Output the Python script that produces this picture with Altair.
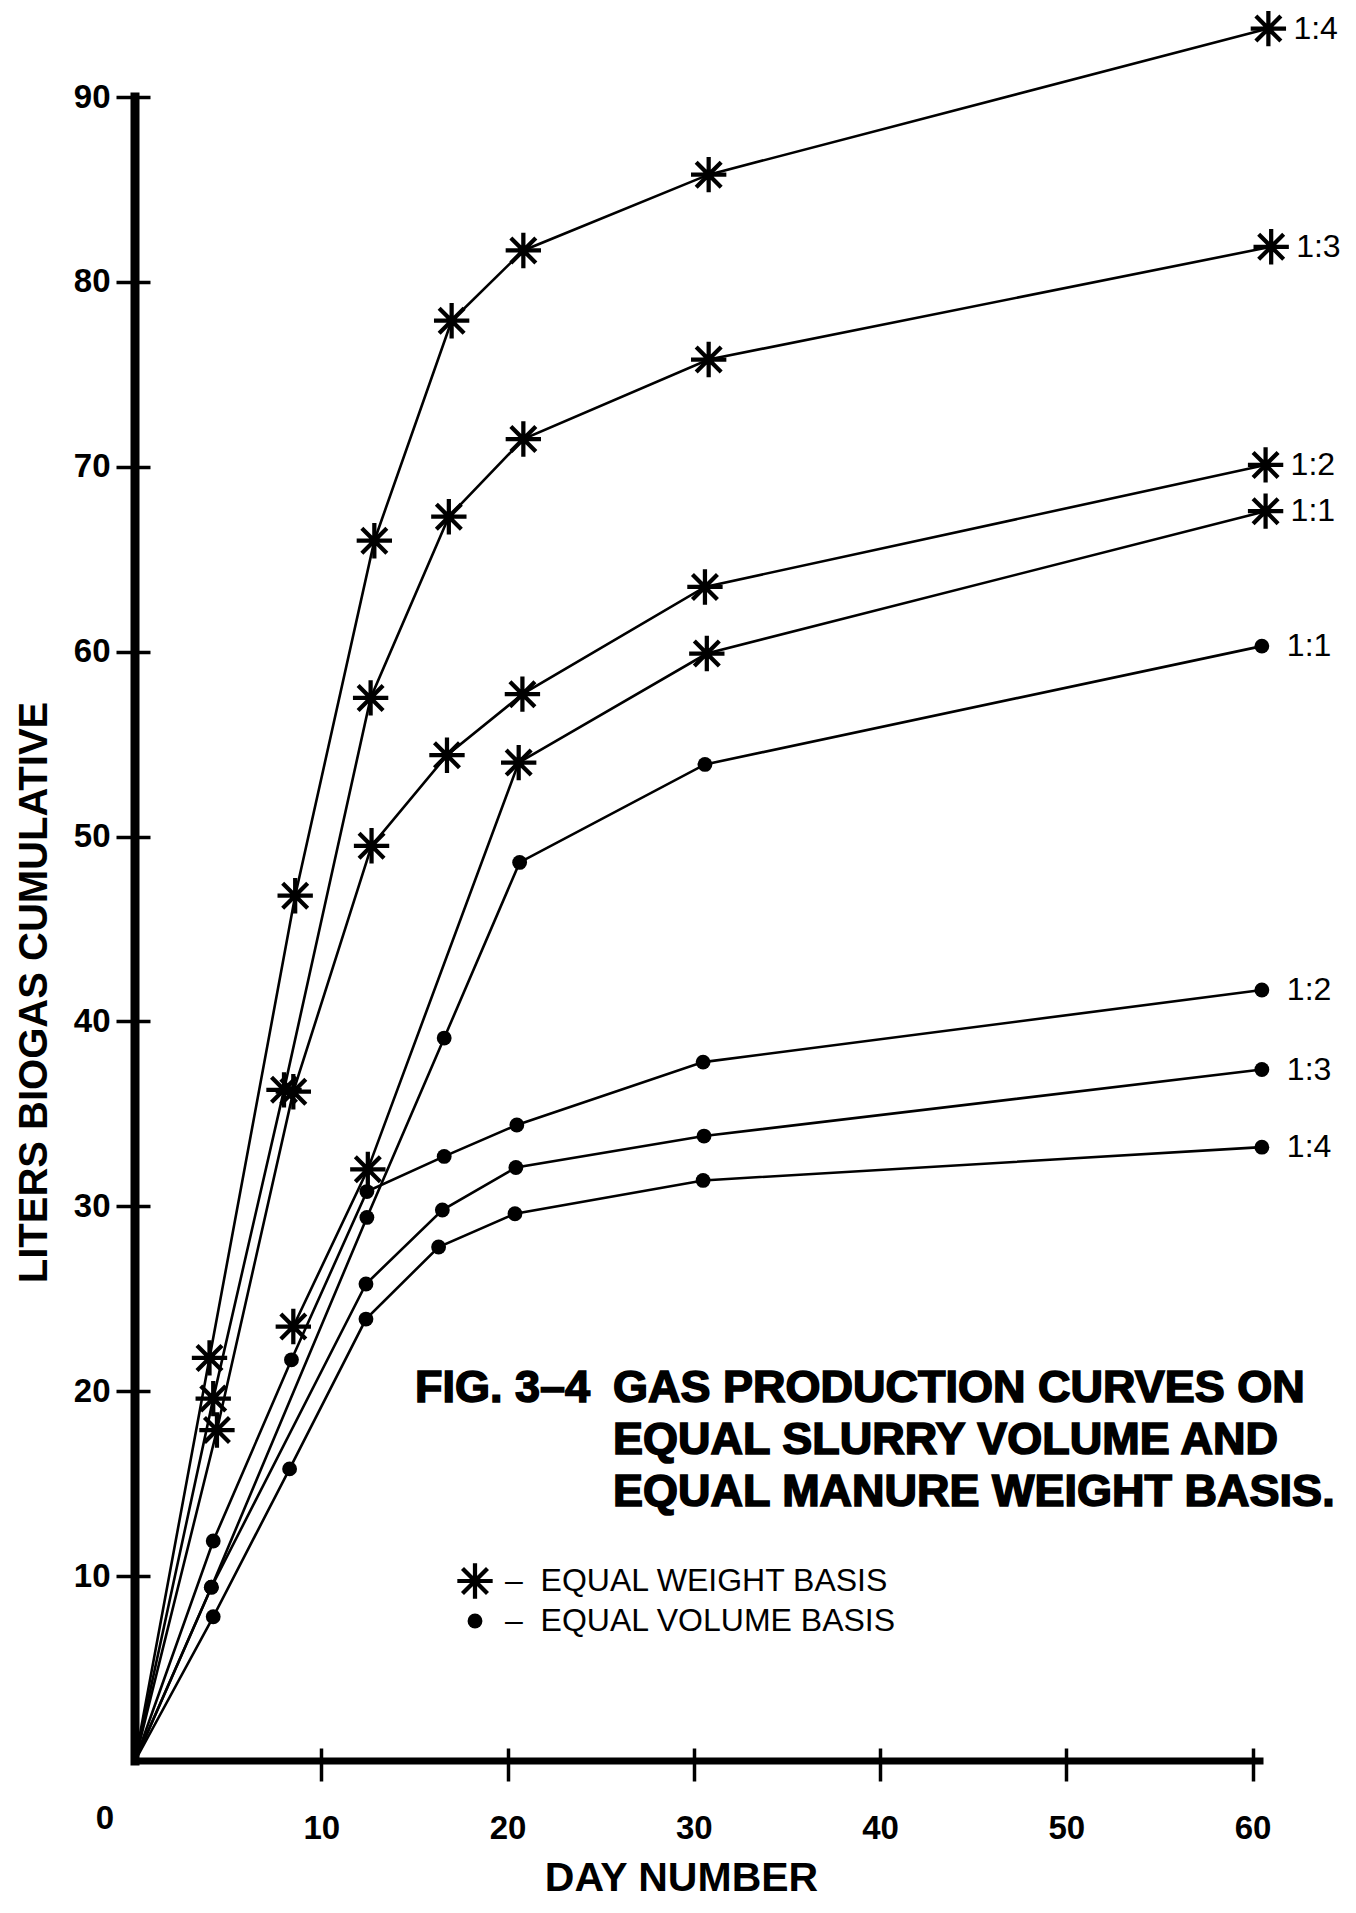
import altair as alt
import pandas as pd

# ---------------- data ----------------
# Equal weight basis (asterisk markers): day number / cumulative litres of biogas
w14_day = [0, 4.0, 8.6, 12.85, 17.0, 20.85, 30.8, 60.85]
w14_lit = [0, 21.8, 46.8, 66.0, 77.9, 81.7, 85.8, 93.7]
w13_day = [0, 4.2, 8.0, 12.65, 16.85, 20.85, 30.8, 61.0]
w13_lit = [0, 19.6, 36.3, 57.5, 67.3, 71.5, 75.8, 81.9]
w12_day = [0, 4.4, 8.5, 12.7, 16.75, 20.8, 30.6, 60.7]
w12_lit = [0, 17.9, 36.2, 49.5, 54.4, 57.7, 63.5, 70.1]
w11_day = [8.5, 12.5, 20.6, 30.7, 60.7]
w11_lit = [23.5, 32.0, 54.0, 59.9, 67.6]

# Equal volume basis (dot markers)
v11_day = [0, 4.1, 12.45, 16.6, 20.65, 30.6, 60.5]
v11_lit = [0, 9.4, 29.4, 39.1, 48.6, 53.9, 60.3]
v12_day = [0, 4.2, 8.4, 12.45, 16.6, 20.5, 30.5, 60.5]
v12_lit = [0, 11.9, 21.7, 30.8, 32.7, 34.4, 37.8, 41.7]
v13_day = [0, 4.1, 12.4, 16.5, 20.45, 30.55, 60.5]
v13_lit = [0, 9.4, 25.8, 29.8, 32.1, 33.8, 37.4]
v14_day = [0, 4.2, 8.3, 12.4, 16.3, 20.4, 30.5, 60.5]
v14_lit = [0, 7.8, 15.8, 23.9, 27.8, 29.6, 31.4, 33.2]

W = "EQUAL WEIGHT BASIS"
V = "EQUAL VOLUME BASIS"
basis_names = [W, V]
x_ticks = [10, 20, 30, 40, 50, 60]
y_ticks = [10, 20, 30, 40, 50, 60, 70, 80, 90]
caption_fig = "FIG. 3\u20134"
caption_lines = ["GAS PRODUCTION CURVES ON",
                 "EQUAL SLURRY VOLUME AND",
                 "EQUAL MANURE WEIGHT BASIS."]
x_title = "DAY NUMBER"
y_title = "LITERS BIOGAS CUMULATIVE"

series = [
    (W, "1:4", w14_day, w14_lit),
    (W, "1:3", w13_day, w13_lit),
    (W, "1:2", w12_day, w12_lit),
    (W, "1:1", w11_day, w11_lit),
    (V, "1:1", v11_day, v11_lit),
    (V, "1:2", v12_day, v12_lit),
    (V, "1:3", v13_day, v13_lit),
    (V, "1:4", v14_day, v14_lit),
]
rows = []
for basis, ratio, ds, ls in series:
    for i, (d, l) in enumerate(zip(ds, ls)):
        rows.append(dict(series=basis + " " + ratio, basis=basis, ratio=ratio,
                         day=d, liters=l, marked=d > 0, last=(i == len(ds) - 1)))
df = pd.DataFrame(rows)

# ---------------- styling ----------------
FONT = "Liberation Sans"
# filled 8-armed asterisk with a solid hub (all sub-paths wound the same way)
ASTER = ("M-1,-0.12L1,-0.12L1,0.12L-1,0.12Z"
         "M0.12,-1L0.12,1L-0.12,1L-0.12,-1Z"
         "M-0.622,-0.792L0.792,0.622L0.622,0.792L-0.792,-0.622Z"
         "M-0.792,0.622L0.622,-0.792L0.792,-0.622L-0.622,0.792Z"
         "M0.32,0L0.226,0.226L0,0.32L-0.226,0.226L-0.32,0L-0.226,-0.226L0,-0.32L0.226,-0.226Z")
X_MAX = 60.4

x_axis = alt.Axis(values=x_ticks, domain=False, grid=False, offset=-13,
                  tickSize=33, tickWidth=3.5, tickColor="black",
                  labelFont=FONT, labelFontSize=33, labelFontWeight="bold",
                  labelColor="black", labelPadding=31, labelFlush=False,
                  labelOverlap=False,
                  title=x_title, titleFont=FONT, titleFontSize=41,
                  titleFontWeight="bold", titleColor="black",
                  titleX=546, titleY=142, titleAlign="center",
                  titleBaseline="alphabetic")
y_axis = alt.Axis(values=y_ticks, domain=False, grid=False, offset=-15,
                  tickSize=34, tickWidth=3.5, tickColor="black",
                  labelFont=FONT, labelFontSize=33, labelFontWeight="bold",
                  labelColor="black", labelPadding=6, labelFlush=False,
                  labelOverlap=False,
                  title=y_title, titleFont=FONT, titleFontSize=40,
                  titleFontWeight="bold", titleColor="black", titleAngle=270,
                  titleX=-116, titleY=895, titleAlign="center",
                  titleBaseline="middle")

x_enc = alt.X("day:Q", scale=alt.Scale(domain=[0, X_MAX], nice=False, zero=True), axis=x_axis)
y_enc = alt.Y("liters:Q", scale=alt.Scale(domain=[0, 90], nice=False, zero=True), axis=y_axis)

base = alt.Chart(df)

lines = base.mark_line(color="black", strokeWidth=2.6).encode(
    x=x_enc, y=y_enc, detail="series:N", order="day:Q")

legend = alt.Legend(orient="none", legendX=322, legendY=1466, title=None,
                    labelFont=FONT, labelFontSize=32, labelColor="black",
                    labelLimit=800,
                    labelExpr="'\u2013\u00a0\u00a0' + datum.label",
                    symbolFillColor="black", symbolStrokeWidth=0,
                    rowPadding=6, labelOffset=12)

points = base.transform_filter("datum.marked").mark_point(
    filled=True, color="black", opacity=1, strokeWidth=0
).encode(
    x="day:Q", y="liters:Q",
    shape=alt.Shape("basis:N", scale=alt.Scale(domain=basis_names, range=[ASTER, "circle"]),
                    legend=legend),
    size=alt.Size("basis:N", scale=alt.Scale(domain=basis_names, range=[1250, 220]),
                  legend=legend),
)

labels = base.transform_filter("datum.last").mark_text(
    align="left", baseline="middle", dx=25, font=FONT, fontSize=32, color="black"
).encode(x="day:Q", y="liters:Q", text="ratio:N")

one = alt.Chart(pd.DataFrame({"k": [0]}))
y_line = one.mark_rule(color="black", strokeWidth=9, strokeCap="square").encode(
    x=alt.datum(0), y=alt.datum(0), y2=alt.datum(90))
x_line = one.mark_rule(color="black", strokeWidth=7, strokeCap="square").encode(
    y=alt.datum(0), x=alt.datum(0), x2=alt.datum(X_MAX))
zero_label = one.mark_text(text="0", font=FONT, fontSize=33, fontWeight="bold",
                           color="black", dx=-30, dy=58, baseline="middle").encode(
    x=alt.datum(0), y=alt.datum(0))

fig_label = one.mark_text(text=caption_fig, font=FONT, fontSize=45, fontWeight="bold",
                          color="black", stroke="black", strokeWidth=1.6,
                          align="left", baseline="alphabetic").encode(
    x=alt.datum(15.03), y=alt.datum(19.42))
caption = one.mark_text(text=caption_lines, font=FONT, fontSize=45, fontWeight="bold",
                        color="black", stroke="black", strokeWidth=1.6, lineHeight=52,
                        align="left", baseline="alphabetic").encode(
    x=alt.datum(25.66), y=alt.datum(19.42))

chart = alt.layer(lines, y_line, x_line, points, labels, zero_label,
                  fig_label, caption).properties(
    width=1125, height=1664,
    padding={"left": 127, "top": 89, "right": 88, "bottom": 139},
    autosize=alt.AutoSizeParams(type="none"),
    background="white",
).configure_view(stroke=None)

chart.save("out.html", embed_options={"renderer": "svg", "actions": False})
